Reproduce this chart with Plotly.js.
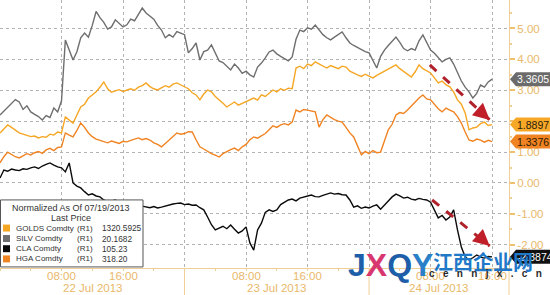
<!DOCTYPE html>
<html><head><meta charset="utf-8">
<script src="https://cdn.plot.ly/plotly-3.0.1.min.js"></script>
<style>html,body{margin:0;padding:0;background:#fff}#chart{width:550px;height:295px}</style>
</head><body><div id="chart"></div>
<script>
// Hours since 22 Jul 2013 00:00
const hours = [0,0.5,1,1.5,2,2.5,3,3.5,4,4.5,5,5.5,6,6.5,7,7.5,8,8.5,9,9.5,10,10.5,11,11.5,12,12.5,13,13.5,14,14.5,15,15.5,16,16.5,17,17.5,18,18.5,19,19.5,20,20.5,21,21.5,22,22.5,23,23.5,24,24.5,25,25.5,26,26.5,27,27.5,28,28.5,29,29.5,30,30.5,31,31.5,32,32.5,33,33.5,34,34.5,35,35.5,36,36.5,37,37.5,38,38.5,39,39.5,40,40.5,41,41.5,42,42.5,43,43.5,44,44.5,45,45.5,46,46.5,47,47.5,48,48.5,49,49.5,50,50.5,51,51.5,52,52.5,53,53.5,54,54.5,55,55.5,56,56.5,57,57.5,58,58.5,59,59.5,60,60.5,61,61.5,62,62.5,63,63.5,64];

const golds = [1.62,1.75,1.88,1.80,1.70,1.62,1.58,1.55,1.50,1.52,1.46,1.50,1.48,1.58,1.55,1.65,1.62,
 2.14,2.05,1.94,2.20,2.46,2.55,2.75,2.85,2.95,3.10,3.27,3.05,2.94,2.98,3.02,2.96,3.01,3.05,3.00,3.10,3.15,3.24,3.12,3.05,3.01,3.08,3.15,3.10,3.20,3.24,3.18,3.11,
 3.05,2.92,2.85,2.69,2.88,3.01,2.95,2.80,2.70,2.58,2.46,2.55,2.62,2.52,2.58,2.62,2.70,2.75,2.68,2.85,2.80,2.92,3.01,2.95,3.05,3.00,3.07,3.05,
 3.72,3.78,3.70,3.85,3.80,3.92,3.85,3.78,3.72,3.80,3.75,3.70,3.78,3.75,3.62,3.55,3.50,3.45,3.52,3.46,
 3.40,3.48,3.55,3.62,3.70,3.75,3.82,3.70,3.60,3.52,3.43,3.60,3.82,3.70,3.62,3.56,3.40,3.24,3.30,3.18,3.11,2.95,2.69,2.55,2.27,1.72,1.78,1.81,1.92,1.97,1.86,1.89];

const silv = [2.20,2.32,2.45,2.58,2.70,2.62,2.38,2.50,2.30,2.22,2.15,2.04,2.18,2.12,2.43,2.30,2.66,
 4.63,4.30,3.98,4.25,4.70,4.85,4.72,5.10,5.55,5.35,5.20,4.98,5.05,5.28,5.15,5.05,5.12,5.30,5.25,5.45,5.66,5.50,5.40,5.30,5.10,4.95,4.70,4.80,4.72,4.90,4.85,4.80,
 4.21,4.35,4.53,3.98,4.25,4.30,4.47,4.20,3.95,3.90,3.78,3.66,3.85,3.72,3.55,3.62,3.50,3.43,3.75,3.88,4.05,4.24,4.30,4.18,4.10,4.02,3.95,4.08,
 4.65,4.95,4.90,5.02,4.98,5.11,4.95,4.80,4.70,4.63,4.72,4.80,4.89,4.70,4.53,4.45,4.38,4.30,4.25,4.21,
 3.95,3.72,4.10,4.30,4.45,4.60,4.72,4.55,4.35,4.28,4.35,4.30,4.60,4.79,4.55,4.30,4.20,4.05,3.92,4.00,4.05,3.85,3.55,3.30,3.10,2.95,2.75,2.90,3.17,3.10,3.27,3.36];

const cla = [0.16,0.42,0.38,0.45,0.42,0.40,0.46,0.44,0.49,0.52,0.47,0.55,0.60,0.65,0.58,0.52,0.49,
 0.36,0.65,0.00,-0.10,-0.16,-0.28,-0.39,-0.35,-0.42,-0.45,-0.55,-0.61,-0.58,-0.55,-0.65,-0.74,-0.70,-0.68,-0.72,-0.78,-0.75,-0.78,-0.80,-0.76,-0.81,-0.78,-0.74,-0.70,-0.68,-0.66,-0.65,-0.70,
 -0.68,-0.72,-0.71,-0.80,-0.87,-1.10,-1.35,-1.52,-1.45,-1.40,-1.48,-1.36,-1.50,-1.62,-1.55,-1.42,-1.94,-2.17,-1.52,-1.30,-0.95,-0.87,-0.92,-0.87,-0.70,-0.62,-0.55,-0.52,
 -0.58,-0.49,-0.45,-0.42,-0.39,-0.44,-0.45,-0.40,-0.36,-0.32,-0.36,-0.34,-0.38,-0.39,-0.55,-0.78,-0.74,-0.82,-0.78,-0.81,
 -0.75,-0.71,-0.85,-0.70,-0.58,-0.45,-0.36,-0.42,-0.49,-0.46,-0.52,-0.55,-0.50,-0.53,-0.55,-0.62,-0.90,-1.13,-1.05,-1.20,-1.10,-0.87,-1.52,-2.07,-2.39,-2.49,-2.42,-2.33,-2.40,-2.43,-2.38,-2.39];

const hga = [0.65,0.85,1.00,0.92,0.85,0.81,0.88,0.95,0.91,0.98,1.02,0.96,1.07,1.12,1.05,1.15,1.17,
 1.62,1.55,1.49,1.70,1.94,1.80,1.62,1.50,1.42,1.38,1.33,1.30,1.36,1.32,1.28,1.35,1.33,1.38,1.42,1.46,1.40,1.44,1.39,1.30,1.25,1.17,1.28,1.40,1.52,1.62,1.58,1.60,
 1.66,1.65,1.40,1.17,1.10,1.02,0.95,0.90,0.84,0.95,1.02,1.08,1.13,1.05,1.17,1.25,1.40,1.49,1.45,1.52,1.60,1.72,1.85,1.80,1.88,1.92,1.88,1.97,
 2.36,2.30,2.38,2.36,2.32,2.30,1.81,2.05,2.20,2.12,2.05,2.00,1.97,1.80,1.62,1.49,1.20,0.91,1.02,0.95,
 1.05,0.98,1.00,1.35,1.72,1.90,2.20,2.28,2.25,2.36,2.50,2.62,2.75,2.85,2.72,2.69,2.55,2.40,2.30,2.42,2.36,2.30,2.15,1.94,1.65,1.39,1.35,1.42,1.39,1.32,1.38,1.34];

const seriesNames = ['GOLDS Comdty','SILV Comdty','CLA Comdty','HGA Comdty'];
const seriesTag = ['(R1)','(R1)','(R1)','(R1)'];
const lastPrices = ['1320.5925','20.1682','105.23','318.20'];
const lastLabels = ['1.8897','3.3605','-2.3874','1.3376'];
const legendTitle = 'Normalized As Of 07/19/2013';
const legendSub = 'Last Price';

const xTickVals = [8,16,24,32,40,48,56,64];
const xTickText = ['08:00','16:00','','08:00','16:00','','08:00','16:00'];
const dayLabels = ['22 Jul 2013','23 Jul 2013','24 Jul 2013'];
const dayCenters = [12,36,57];
const dayBreaks = [24,48];
const yTickVals = [-2,-1,0,1,2,3,4,5];
const yTickText = ['-2.00','-1.00','0.00','1.00','','3.00','4.00','5.00'];

// trend arrows in axis units
const arrowsFrom = [[55.9,3.82],[56.2,-0.55]];
const arrowsTo = [[63.7,2.04],[63.7,-2.04]];

const series = [golds, silv, cla, hga];
const lineColors = ['#f5a623','#6e6e6e','#0a0a0a','#f08322'];
const boxColors = ['#f7a826','#6b6b6b','#111111','#f08322'];
const boxText = ['#2a2110','#ffffff','#ffffff','#2a1a08'];

const FONT = 'Liberation Sans, Arial, sans-serif';
const AXC = '#f0cf96';
const LBL = '#e9b86a';

const drawOrder = [1,0,3,2];
const traces = drawOrder.map(i => ({
  x: hours, y: series[i], type: 'scatter', mode: 'lines', name: seriesNames[i],
  line: {color: lineColors[i], width: 1.4}, showlegend: false, hoverinfo: 'skip'
}));

const shapes = [];
const annotations = [];

dayBreaks.forEach(d => shapes.push({type:'line', xref:'x', yref:'paper', x0:d, x1:d, y0:-0.11, y1:0, line:{color:AXC, width:1}}));
shapes.push({type:'line', xref:'paper', yref:'paper', x0:1, x1:1, y0:-0.11, y1:0, line:{color:AXC, width:1}});

xTickVals.forEach((v,i) => { if (xTickText[i]) annotations.push({xref:'x', yref:'paper', x:v, y:-0.031, text:xTickText[i],
  showarrow:false, xanchor:'center', yanchor:'middle', font:{family:FONT, size:11.5, color:LBL}}); });
dayLabels.forEach((t,i) => annotations.push({xref:'x', yref:'paper', x:dayCenters[i], y:-0.075, text:t, showarrow:false,
  xanchor:'center', yanchor:'middle', font:{family:FONT, size:11.5, color:LBL}}));

arrowsFrom.forEach((a,i) => {
  const b = arrowsTo[i];
  shapes.push({type:'line', xref:'x', yref:'y', x0:a[0], y0:a[1], x1:b[0], y1:b[1], layer:'above',
    line:{color:'#b0222b', width:3, dash:'dash'}});
  annotations.push({xref:'x', yref:'y', x:b[0], y:b[1], ax:-9, ay:-8, text:'', showarrow:true,
    arrowhead:2, arrowsize:1.1, arrowwidth:3, arrowcolor:'#c01f29'});
});

series.forEach((s,i) => {
  const v = s[s.length-1];
  shapes.push({type:'path', xref:'paper', yref:'y', xsizemode:'pixel', ysizemode:'pixel', xanchor:1, yanchor:v,
    path:'M1,0 L7,-7 L44,-7 L44,7 L7,7 Z', fillcolor:boxColors[i], line:{width:0}, layer:'above'});
  annotations.push({xref:'paper', yref:'y', x:1+6/509, y:v, text:lastLabels[i], showarrow:false,
    xanchor:'left', yanchor:'middle', font:{family:FONT, size:10.5, color:boxText[i]}});
});

// legend box
shapes.push({type:'rect', xref:'paper', yref:'paper', x0:0.001, x1:143/509, y0:0.004, y1:0.254,
  fillcolor:'#ffffff', line:{color:'#555555', width:1}, layer:'above'});
annotations.push({xref:'paper', yref:'paper', x:71/509, y:0.224, text:legendTitle, showarrow:false,
  xanchor:'center', yanchor:'middle', font:{family:FONT, size:9, color:'#333'}});
annotations.push({xref:'paper', yref:'paper', x:71/509, y:0.187, text:legendSub, showarrow:false,
  xanchor:'center', yanchor:'middle', font:{family:FONT, size:9, color:'#333'}});
const rowY = [0.149, 0.110, 0.072, 0.034];
seriesNames.forEach((n,i) => {
  shapes.push({type:'rect', xref:'paper', yref:'paper', x0:3/509, x1:10/509, y0:rowY[i]-0.013, y1:rowY[i]+0.013,
    fillcolor:lineColors[i], line:{width:0}, layer:'above'});
  annotations.push({xref:'paper', yref:'paper', x:14/509, y:rowY[i], text:n, showarrow:false,
    xanchor:'left', yanchor:'middle', font:{family:FONT, size:8, color:'#333'}});
  annotations.push({xref:'paper', yref:'paper', x:75/509, y:rowY[i], text:seriesTag[i], showarrow:false,
    xanchor:'left', yanchor:'middle', font:{family:FONT, size:8, color:'#333'}});
  annotations.push({xref:'paper', yref:'paper', x:100/509, y:rowY[i], text:lastPrices[i], showarrow:false,
    xanchor:'left', yanchor:'middle', font:{family:FONT, size:8.3, color:'#333'}});
});

// watermark
annotations.push({xref:'paper', yref:'paper', x:390/509, y:0.012, showarrow:false, xanchor:'center', yanchor:'middle',
  text:'<span style="color:#1c5ea8">J</span><span style="color:#d8366f">X</span><span style="color:#1c5ea8">Q</span><span style="color:#2a80c8">Y</span>',
  font:{family:FONT, size:32, weight:'bold', color:'#1c5ea8'}});
annotations.push({xref:'paper', yref:'paper', x:483/509, y:0.026, showarrow:false, xanchor:'center', yanchor:'middle',
  text:'江西企业网', font:{family:'Noto Sans CJK SC', size:20, weight:'bold', color:'#1f78c8'}});
annotations.push({xref:'paper', yref:'paper', x:485/509, y:-0.022, showarrow:false, xanchor:'center', yanchor:'middle',
  text:'c\u00a0\u00a0 e\u00a0\u00a0 n\u00a0\u00a0 n\u00a0\u00a0 j\u00a0\u00a0 x\u00a0\u00a0 .\u00a0\u00a0 c\u00a0\u00a0 n', font:{family:FONT, size:10, weight:'bold', color:'#2a2a2a'}});

const layout = {
  width:550, height:295,
  margin:{l:0, r:41, t:0, b:27, pad:0},
  paper_bgcolor:'#ffffff', plot_bgcolor:'#ffffff',
  showlegend:false,
  xaxis:{range:[0,66.2], tickmode:'array', tickvals:xTickVals, showticklabels:false,
    ticks:'outside', ticklen:2, tickcolor:AXC,
    minor:{dtick:4, tick0:0, ticks:'outside', ticklen:2, tickcolor:AXC, showgrid:false},
    showline:true, linecolor:AXC, linewidth:1, showgrid:true, gridcolor:'#b3b3b3', griddash:'dot', gridwidth:1,
    zeroline:false, fixedrange:true},
  yaxis:{range:[-2.751,5.922], side:'right', tickmode:'array', tickvals:yTickVals, ticktext:yTickText,
    tickfont:{family:FONT, size:11.5, color:LBL}, ticks:'outside', ticklen:5, tickwidth:2, tickcolor:'#efc16f',
    minor:{dtick:0.5, tick0:0, ticks:'outside', ticklen:2, tickcolor:AXC, showgrid:false},
    showline:true, linecolor:AXC, linewidth:1, showgrid:true, gridcolor:'#b3b3b3', griddash:'dot', gridwidth:1,
    zeroline:false, fixedrange:true},
  shapes:shapes, annotations:annotations
};
Plotly.newPlot('chart', traces, layout, {staticPlot:true, displayModeBar:false});
</script></body></html>
